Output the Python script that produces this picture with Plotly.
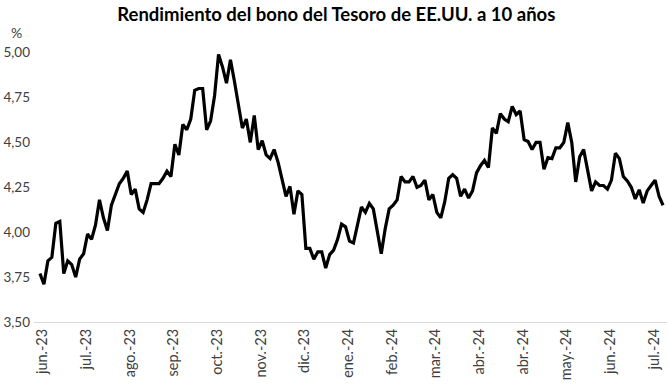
import plotly.graph_objects as go

title_text = "Rendimiento del bono del Tesoro de EE.UU. a 10 años"

yield_values = [
    3.77, 3.71, 3.84, 3.86, 4.05, 4.06, 3.77, 3.84, 3.82, 3.75,
    3.85, 3.88, 3.99, 3.96, 4.04, 4.18, 4.08, 4.01, 4.15, 4.21,
    4.27, 4.30, 4.34, 4.21, 4.24, 4.13, 4.11, 4.18, 4.27, 4.27,
    4.27, 4.30, 4.34, 4.31, 4.49, 4.43, 4.60, 4.57, 4.63, 4.79,
    4.80, 4.80, 4.57, 4.62, 4.76, 4.99, 4.92, 4.83, 4.96, 4.84,
    4.70, 4.58, 4.63, 4.50, 4.65, 4.46, 4.51, 4.43, 4.41, 4.46,
    4.39, 4.30, 4.20, 4.255, 4.10, 4.23, 4.21, 3.91, 3.91, 3.85,
    3.89, 3.89, 3.80, 3.875, 3.90, 3.96, 4.045, 4.03, 3.95, 3.94,
    4.04, 4.14, 4.11, 4.16, 4.13, 4.01, 3.88, 4.02, 4.13, 4.15,
    4.18, 4.31, 4.28, 4.28, 4.31, 4.25, 4.26, 4.29, 4.18, 4.21,
    4.11, 4.08, 4.17, 4.30, 4.32, 4.30, 4.20, 4.24, 4.19, 4.23,
    4.33, 4.37, 4.40, 4.36, 4.58, 4.55, 4.66, 4.63, 4.615, 4.70,
    4.655, 4.675, 4.515, 4.505, 4.46, 4.50, 4.50, 4.35, 4.415, 4.41,
    4.47, 4.47, 4.50, 4.61, 4.50, 4.28, 4.42, 4.46, 4.35, 4.23,
    4.28, 4.26, 4.26, 4.24, 4.29, 4.44, 4.41, 4.31, 4.285, 4.25,
    4.185, 4.236, 4.163, 4.23, 4.26, 4.29, 4.20, 4.15,
]

# Month labels shown along the category axis (one every 11 observations)
month_labels = [
    "jun.-23", "jul.-23", "ago.-23", "sep.-23", "oct.-23", "nov.-23",
    "dic.-23", "ene.-24", "feb.-24", "mar.-24", "abr.-24", "abr.-24",
    "may.-24", "jun.-24", "jul.-24",
]
label_step = 11
label_offset = 0.68

y_ticks = [3.50, 3.75, 4.00, 4.25, 4.50, 4.75, 5.00]

x_idx = list(range(len(yield_values)))
tick_pos = [label_offset + label_step * k for k in range(len(month_labels))]

FONT = "Lato, 'Open Sans', sans-serif"
GRAY = "#404040"
W, H = 670, 391
ML, MR, MT, MB = 34, 3, 48.7, 68.5

fig = go.Figure()
fig.add_trace(go.Scatter(
    x=x_idx, y=yield_values, mode="lines",
    line=dict(color="#000000", width=3.2, shape="linear"),
    hoverinfo="skip", showlegend=False,
))

fig.update_layout(
    width=W, height=H,
    margin=dict(l=ML, r=MR, t=MT, b=MB, autoexpand=False),
    paper_bgcolor="white", plot_bgcolor="white",
    separators=",.",
    font=dict(family=FONT, size=14, color=GRAY),
    title=dict(
        text="<b>" + title_text + "</b>",
        x=0.502, xref="container", xanchor="center",
        y=1 - 14.5 / H, yref="container", yanchor="middle",
        pad=dict(t=0, b=0, l=0, r=0),
        font=dict(family=FONT, size=18.5, color="#000000"),
    ),
    xaxis=dict(
        range=[-1.5, 158], automargin=False,
        tickmode="array", tickvals=tick_pos, ticktext=month_labels,
        tickangle=-90, showgrid=False, zeroline=False,
        showline=True, linecolor="#d9d9d9", linewidth=1,
        ticks="", ticklen=0,
        tickfont=dict(family=FONT, size=14.5, color=GRAY),
    ),
    yaxis=dict(
        range=[3.5, 5.02], automargin=False,
        tickmode="array", tickvals=y_ticks, tickformat=".2f",
        showgrid=False, zeroline=False, showline=False,
        ticks="", ticklabelstandoff=3,
        tickfont=dict(family=FONT, size=13.5, color=GRAY),
    ),
    annotations=[dict(
        text="%", showarrow=False,
        xref="paper", yref="paper",
        x=(16 - ML) / (W - ML - MR), y=1 + (MT - 32) / (H - MT - MB),
        xanchor="center", yanchor="middle",
        font=dict(family=FONT, size=14, color=GRAY),
    )],
)

fig.write_html(
    "out.html",
    config={"displayModeBar": False, "staticPlot": True},
    post_script="document.body.style.margin='0px';document.body.style.overflow='hidden';",
)
